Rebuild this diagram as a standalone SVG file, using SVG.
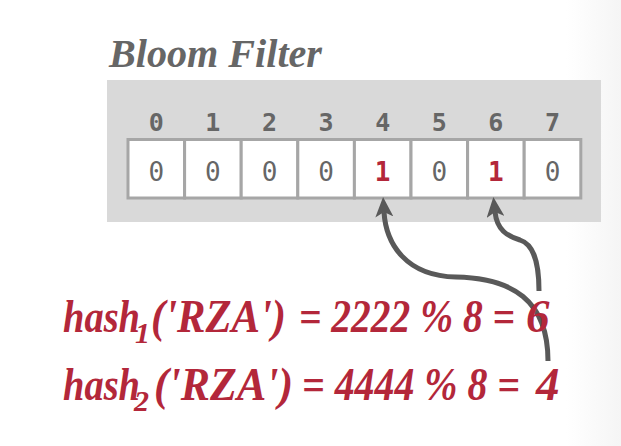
<svg xmlns="http://www.w3.org/2000/svg" width="621" height="446" viewBox="0 0 621 446">
<defs>
<linearGradient id="edge" x1="0" y1="0" x2="1" y2="0">
<stop offset="0" stop-color="#ffffff"/>
<stop offset="1" stop-color="#f5f5f5"/>
</linearGradient>
<marker id="head" markerUnits="userSpaceOnUse" viewBox="0 0 20 18" markerWidth="20" markerHeight="18" refX="5" refY="9" orient="auto">
<path d="M0,0 L20,9 L0,18 L5,9 z" fill="#595959"/>
</marker>
<style>
.title{font-family:"Liberation Serif",serif;font-weight:bold;font-style:italic;font-size:39px;fill:#666666}
.idx{font-family:"DejaVu Sans Mono",monospace;font-weight:bold;font-size:25px;fill:#666666;text-anchor:middle}
.val{font-family:"DejaVu Sans Mono",monospace;font-size:26px;fill:#666666;text-anchor:middle}
.one{fill:#b3273a;font-weight:bold}
.cell{fill:#ffffff;stroke:#a6a6a6;stroke-width:3}
.hash{font-family:"Liberation Serif",serif;font-weight:bold;font-style:italic;font-size:47px;fill:#b3273a}
.sub{font-size:30px}
.conn{fill:none;stroke:#595959;stroke-width:5;marker-end:url(#head)}
</style>
</defs>
<rect width="621" height="446" fill="#ffffff"/>
<rect x="566" y="0" width="55" height="446" fill="url(#edge)"/>
<g id="title">
<text class="title" x="109" y="67" textLength="213" lengthAdjust="spacingAndGlyphs">Bloom Filter</text>
</g>
<g id="bloom-filter">
<rect x="107" y="80" width="494" height="142" fill="#d9d9d9"/>
<text class="idx" x="156.3" y="131">0</text>
<text class="idx" x="212.9" y="131">1</text>
<text class="idx" x="269.5" y="131">2</text>
<text class="idx" x="326.1" y="131">3</text>
<text class="idx" x="382.7" y="131">4</text>
<text class="idx" x="439.3" y="131">5</text>
<text class="idx" x="495.9" y="131">6</text>
<text class="idx" x="552.5" y="131">7</text>
<rect class="cell" x="128" y="139.5" width="56.6" height="58.5"/>
<rect class="cell" x="184.6" y="139.5" width="56.6" height="58.5"/>
<rect class="cell" x="241.2" y="139.5" width="56.6" height="58.5"/>
<rect class="cell" x="297.8" y="139.5" width="56.6" height="58.5"/>
<rect class="cell" x="354.4" y="139.5" width="56.6" height="58.5"/>
<rect class="cell" x="411" y="139.5" width="56.6" height="58.5"/>
<rect class="cell" x="467.6" y="139.5" width="56.6" height="58.5"/>
<rect class="cell" x="524.2" y="139.5" width="56.6" height="58.5"/>
<text class="val" x="156.3" y="181">0</text>
<text class="val" x="212.9" y="181">0</text>
<text class="val" x="269.5" y="181">0</text>
<text class="val" x="326.1" y="181">0</text>
<text class="val one" x="382.7" y="181">1</text>
<text class="val" x="439.3" y="181">0</text>
<text class="val one" x="495.9" y="181">1</text>
<text class="val" x="552.5" y="181">0</text>
</g>
<g id="connectors">
<path class="conn" d="M548,361 C548,300 512,278 456,277 C406,276 386,244 384,212"/>
<path class="conn" d="M539,291 C539,258 532,244 520,240 C507,236 497,230 495,212"/>
</g>
<g id="hash1">
<text class="hash" y="332"><tspan x="63" textLength="77" lengthAdjust="spacingAndGlyphs">hash</tspan><tspan class="sub" x="135" y="343">1</tspan><tspan x="151" y="332" textLength="135" lengthAdjust="spacingAndGlyphs">('RZA')</tspan><tspan x="299" textLength="216" lengthAdjust="spacingAndGlyphs">= 2222 % 8 =</tspan><tspan x="526">6</tspan></text>
</g>
<g id="hash2">
<text class="hash" y="400"><tspan x="63" textLength="77" lengthAdjust="spacingAndGlyphs">hash</tspan><tspan class="sub" x="134" y="411">2</tspan><tspan x="154" y="400" textLength="139" lengthAdjust="spacingAndGlyphs">('RZA')</tspan><tspan x="302" textLength="218" lengthAdjust="spacingAndGlyphs">= 4444 % 8 =</tspan><tspan x="536">4</tspan></text>
</g>
</svg>
